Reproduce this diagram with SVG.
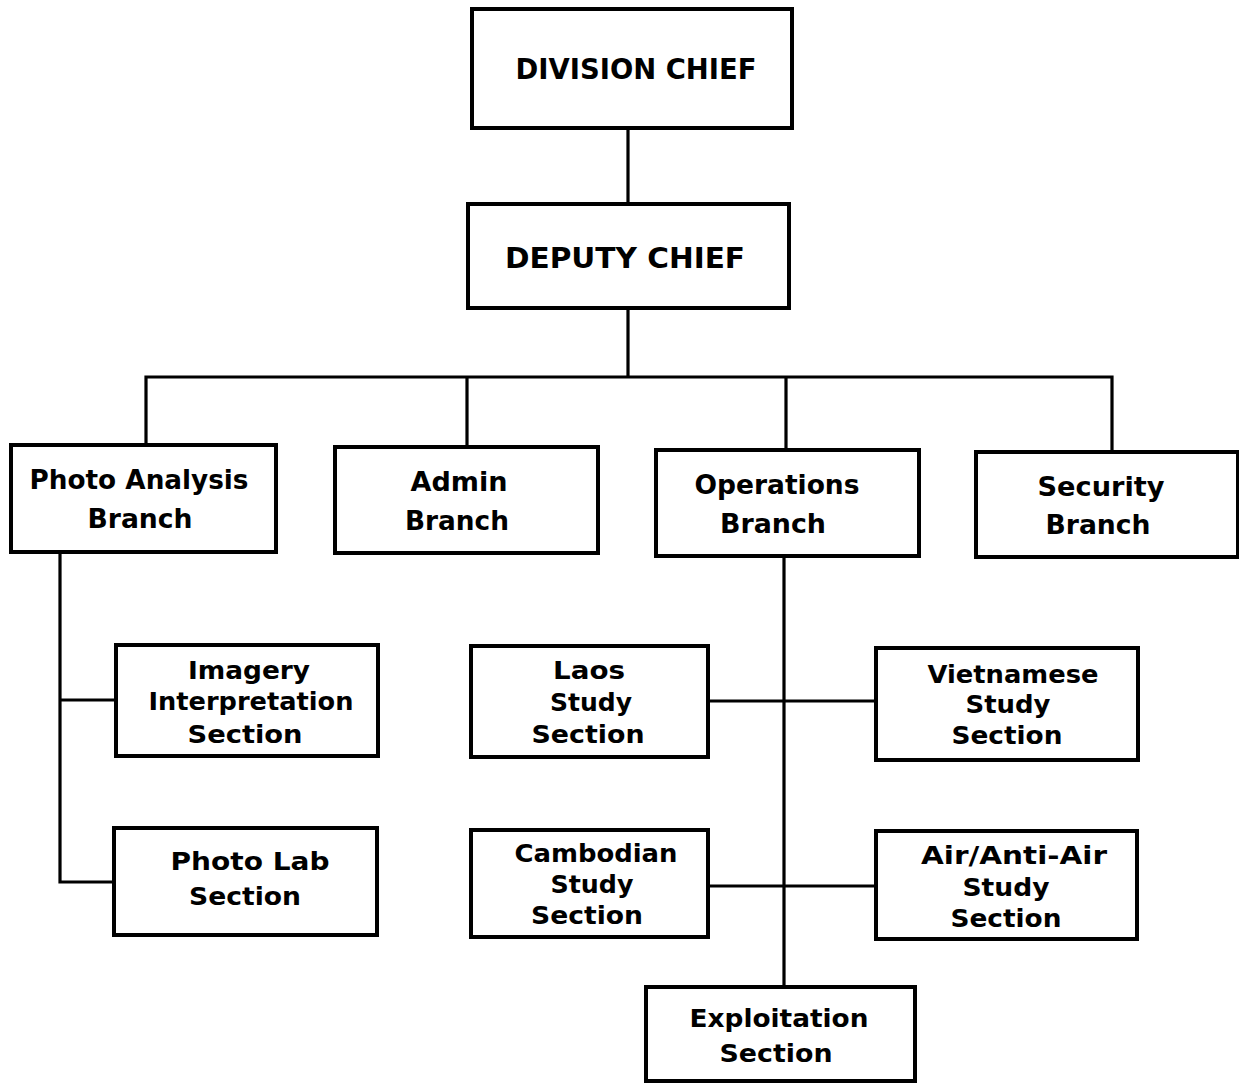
<svg xmlns="http://www.w3.org/2000/svg" width="1239" height="1083" viewBox="0 0 1239 1083">
<style>
.box{fill:#fff;stroke:#000;stroke-width:4}
.ln{fill:none;stroke:#000;stroke-width:3.2;stroke-linecap:square}
text{font-family:"DejaVu Sans","Liberation Sans",sans-serif;font-weight:bold;fill:#000;text-anchor:middle}
.big{font-size:28px}
.br{font-size:26px}
.sc{font-size:25px}
</style>
<rect width="1239" height="1083" fill="#fff"/>
<g id="connectors">
<path class="ln" d="M628 128V203M628 308V377M146 377H1112M146 377V445M467 377V447M786 377V450M1112 377V452"/>
<path class="ln" d="M60 553V882M60 700H116M60 882H114"/>
<path class="ln" d="M784 556V987M708 701H876M708 886H876"/>
</g>
<g id="division-chief">
<rect class="box" x="472" y="9" width="320" height="119"/>
<text class="big" x="636" y="79" textLength="241" lengthAdjust="spacingAndGlyphs">DIVISION CHIEF</text>
</g>
<g id="deputy-chief">
<rect class="box" x="468" y="204" width="321" height="104"/>
<text class="big" x="625" y="268" textLength="240" lengthAdjust="spacingAndGlyphs">DEPUTY  CHIEF</text>
</g>
<g id="photo-analysis-branch">
<rect class="box" x="11" y="445" width="265" height="107"/>
<text class="br" x="139" y="489" textLength="219" lengthAdjust="spacingAndGlyphs">Photo Analysis</text>
<text class="br" x="140" y="528" textLength="105" lengthAdjust="spacingAndGlyphs">Branch</text>
</g>
<g id="admin-branch">
<rect class="box" x="335" y="447" width="263" height="106"/>
<text class="br" x="459" y="491" textLength="97" lengthAdjust="spacingAndGlyphs">Admin</text>
<text class="br" x="457" y="530" textLength="104" lengthAdjust="spacingAndGlyphs">Branch</text>
</g>
<g id="operations-branch">
<rect class="box" x="656" y="450" width="263" height="106"/>
<text class="br" x="777" y="494" textLength="165" lengthAdjust="spacingAndGlyphs">Operations</text>
<text class="br" x="773" y="533" textLength="106" lengthAdjust="spacingAndGlyphs">Branch</text>
</g>
<g id="security-branch">
<rect class="box" x="976" y="452" width="262" height="105"/>
<text class="br" x="1101" y="496" textLength="127" lengthAdjust="spacingAndGlyphs">Security</text>
<text class="br" x="1098" y="534" textLength="105" lengthAdjust="spacingAndGlyphs">Branch</text>
</g>
<g id="imagery-interpretation-section">
<rect class="box" x="116" y="645" width="262" height="111"/>
<text class="sc" x="249" y="679" textLength="122" lengthAdjust="spacingAndGlyphs">Imagery</text>
<text class="sc" x="251" y="710" textLength="205" lengthAdjust="spacingAndGlyphs">Interpretation</text>
<text class="sc" x="245" y="743" textLength="115" lengthAdjust="spacingAndGlyphs">Section</text>
</g>
<g id="photo-lab-section">
<rect class="box" x="114" y="828" width="263" height="107"/>
<text class="sc" x="250" y="870" textLength="159" lengthAdjust="spacingAndGlyphs">Photo Lab</text>
<text class="sc" x="245" y="905" textLength="112" lengthAdjust="spacingAndGlyphs">Section</text>
</g>
<g id="laos-study-section">
<rect class="box" x="471" y="646" width="237" height="111"/>
<text class="sc" x="589" y="679" textLength="72" lengthAdjust="spacingAndGlyphs">Laos</text>
<text class="sc" x="591" y="711" textLength="82" lengthAdjust="spacingAndGlyphs">Study</text>
<text class="sc" x="588" y="743" textLength="113" lengthAdjust="spacingAndGlyphs">Section</text>
</g>
<g id="vietnamese-study-section">
<rect class="box" x="876" y="648" width="262" height="112"/>
<text class="sc" x="1013" y="683" textLength="171" lengthAdjust="spacingAndGlyphs">Vietnamese</text>
<text class="sc" x="1008" y="713" textLength="85" lengthAdjust="spacingAndGlyphs">Study</text>
<text class="sc" x="1007" y="744" textLength="111" lengthAdjust="spacingAndGlyphs">Section</text>
</g>
<g id="cambodian-study-section">
<rect class="box" x="471" y="830" width="237" height="107"/>
<text class="sc" x="596" y="862" textLength="163" lengthAdjust="spacingAndGlyphs">Cambodian</text>
<text class="sc" x="592" y="893" textLength="83" lengthAdjust="spacingAndGlyphs">Study</text>
<text class="sc" x="587" y="924" textLength="112" lengthAdjust="spacingAndGlyphs">Section</text>
</g>
<g id="air-anti-air-study-section">
<rect class="box" x="876" y="831" width="261" height="108"/>
<text class="sc" x="1014" y="864" textLength="186" lengthAdjust="spacingAndGlyphs">Air/Anti-Air</text>
<text class="sc" x="1006" y="896" textLength="87" lengthAdjust="spacingAndGlyphs">Study</text>
<text class="sc" x="1006" y="927" textLength="111" lengthAdjust="spacingAndGlyphs">Section</text>
</g>
<g id="exploitation-section">
<rect class="box" x="646" y="987" width="269" height="94"/>
<text class="sc" x="779" y="1027" textLength="179" lengthAdjust="spacingAndGlyphs">Exploitation</text>
<text class="sc" x="776" y="1062" textLength="113" lengthAdjust="spacingAndGlyphs">Section</text>
</g>
</svg>
